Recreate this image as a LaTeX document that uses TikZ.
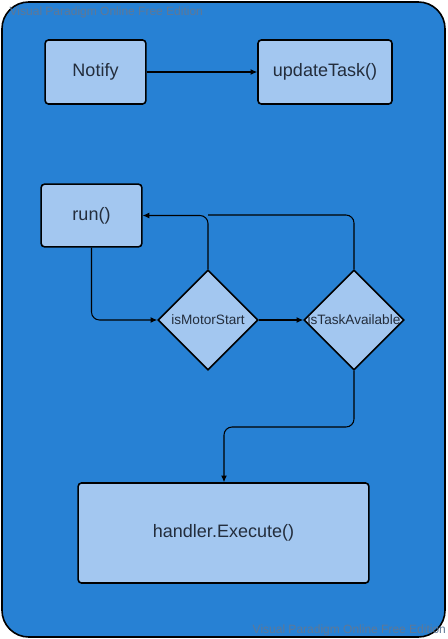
\documentclass[tikz,border=0pt]{standalone}
\usepackage{fontspec}
\setmainfont{Liberation Sans}
\usetikzlibrary{shapes.geometric,arrows.meta}
\definecolor{vpblue}{RGB}{39,129,212}
\definecolor{vplight}{RGB}{163,199,240}
\definecolor{vptext}{RGB}{35,45,60}
\definecolor{vpmark}{RGB}{95,120,150}
\tikzset{
  box/.style={draw,line width=1.2pt,rounded corners=2.5pt,fill=vplight,text=vptext,font=\fontsize{13.5}{15}\selectfont},
  choice/.style={draw,diamond,line width=1.2pt,fill=vplight,inner sep=0pt,minimum width=75pt,minimum height=75pt},
  choicetext/.style={text=vptext,inner sep=0pt,font=\fontsize{10.2}{12}\selectfont},
  link/.style={line width=0.8pt,-{Latex[length=5pt,width=4.5pt]},rounded corners=6pt}
}
\begin{document}
\begin{tikzpicture}[x=0.75pt,y=-0.75pt]
\useasboundingbox (0,0) rectangle (447,639);
\draw [line width=1.2pt,fill=vpblue,rounded corners=20pt] (2,2) rectangle (445,637);
\node [anchor=base west,text=vpmark,font=\fontsize{9}{10}\selectfont] (mark1) at (5,15) {Visual Paradigm Online Free Edition};
\node [anchor=base west,text=vpmark,font=\fontsize{9}{10}\selectfont] (mark2) at (248,633) {Visual Paradigm Online Free Edition};
% nodes
\node [box,minimum width=75.5pt,minimum height=48pt] (notify) at (95.5,72) {Notify};
\node [box,minimum width=100.5pt,minimum height=48pt] (update) at (325,72) {updateTask()};
\node [box,minimum width=75.5pt,minimum height=47pt] (run) at (91.5,215.5) {run()};
\node [choice] (motor) at (208,320) {};
\node [choicetext] (motortext) at (motor) {isMotorStart};
\node [choice] (task) at (354,320) {};
\node [choicetext] (tasktext) at (task) {isTaskAvailable};
\node [box,minimum width=218pt,minimum height=75pt] (exec) at (223.5,533) {handler.Execute()};
% connectors
\draw [link] (notify) -- (update);
\draw [link] (run.south) |- (motor.west);
\draw [link] (motor) -- (task);
\draw [link] (motor.north) |- (run.east);
\draw [line width=0.8pt,rounded corners=6pt] (task.north) |- (208,215);
\draw [link] (task.south) -- (354,427) -- (224,427) -- (exec.north -| 224,0);
\end{tikzpicture}
\end{document}
